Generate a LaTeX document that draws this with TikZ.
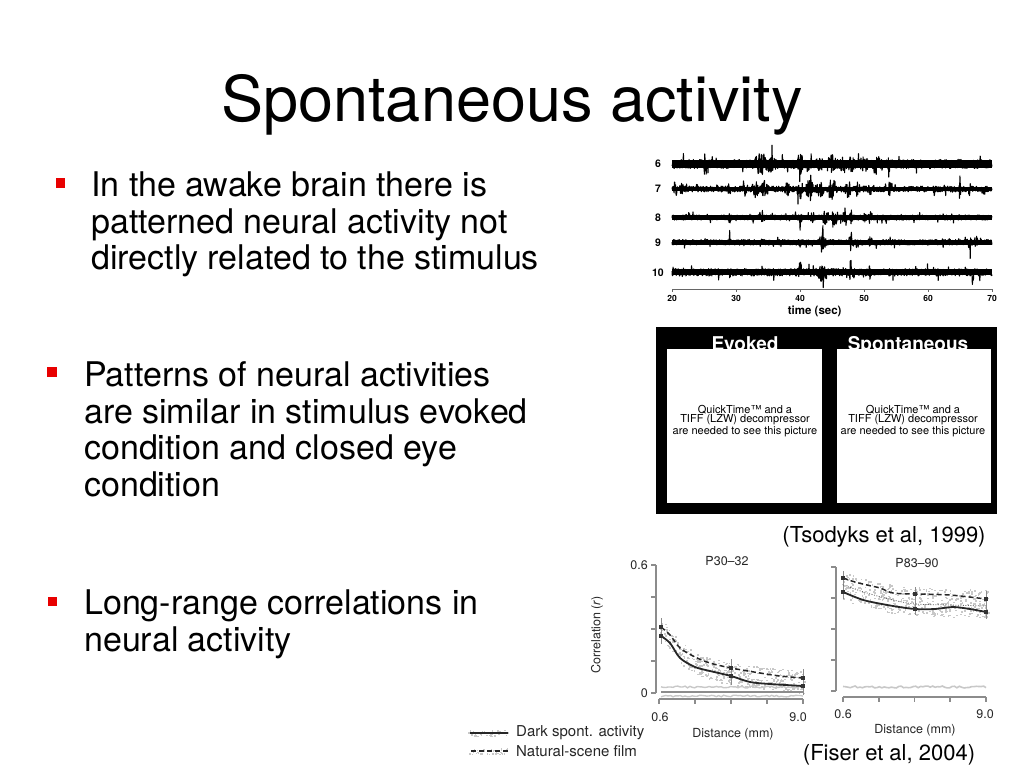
\documentclass[tikz,border=0pt]{standalone}
\usepackage{fontspec}
\setmainfont{TeX Gyre Heros}
\usetikzlibrary{positioning}
\definecolor{bulletred}{RGB}{232,0,0}
\definecolor{cloudgrey}{RGB}{200,200,200}
\definecolor{axisgrey}{RGB}{140,140,140}
\tikzstyle{title} = [font=\fontsize{63}{70}\selectfont, inner sep=0]
\tikzstyle{bodytext} = [font=\fontsize{34}{36.7}\selectfont, align=left, anchor=north west, inner sep=0]
\tikzstyle{bulletbox} = [fill=bulletred, minimum size=9.3pt, inner sep=0]
\tikzstyle{trace} = [black, line width=1.1pt, line join=round]
\tikzstyle{chanlabel} = [font=\bfseries\fontsize{10.5}{10.5}\selectfont, inner sep=0]
\tikzstyle{ticklbl} = [font=\bfseries\fontsize{8.5}{8.5}\selectfont, inner sep=0]
\tikzstyle{tickline} = [black!60, line width=0.7pt]
\tikzstyle{paneltitle} = [text=white, font=\bfseries\fontsize{19}{19}\selectfont, inner sep=0, anchor=base]
\tikzstyle{qt} = [font=\fontsize{11}{9.3}\selectfont, align=center, inner sep=0]
\tikzstyle{citation} = [font=\fontsize{22}{22}\selectfont, inner sep=0]
\tikzstyle{plotlbl} = [text=black!85, font=\fontsize{12.5}{12.5}\selectfont, inner sep=0]
\tikzstyle{legendtext} = [text=black!85, font=\fontsize{15}{15}\selectfont, inner sep=0, anchor=west]
\tikzstyle{axisline} = [axisgrey, line width=1.2pt]
\tikzstyle{datasolid} = [black!85, line width=1.8pt]
\tikzstyle{datadash} = [black!85, line width=1.5pt, dash pattern=on 5pt off 3pt]
\tikzstyle{datadot} = [black!60, line width=0.8pt, dash pattern=on 1pt off 1.5pt]
\tikzstyle{errbar} = [black!45, line width=0.8pt]
\pgfmathdeclarefunction{burst}{3}{\pgfmathparse{max(0,1-min(abs(#1-#2)/#3,2)^2)}}

\begin{document}
\begin{tikzpicture}[x=1pt, y=-1pt]
\useasboundingbox (0,0) rectangle (1024,768);
\pgfmathsetseed{11}

% title
\node (title) [title, anchor=base] at (512,121) {Spontaneous activity};

% bullets
\node (sq1) [bulletbox] at (60.5,183) {};
\node (txt1) [bodytext] at (91,171.5) {In the awake brain there is\\patterned neural activity not\\directly related to the stimulus};
\node (sq2) [bulletbox] at (52,372) {};
\node (txt2) [bodytext] at (84,361.5) {Patterns of neural activities\\are similar in stimulus evoked\\condition and closed eye\\condition};
\node (sq3) [bulletbox] at (52.5,601.7) {};
\node (txt3) [bodytext] at (84,590) {Long-range correlations in\\neural activity};

% recordings
\begin{scope}[shift={(672,0)}, x=6.4pt]
\foreach \chan/\ybase/\base/\env in {
  6/164/4.6/{7*burst(\x,34,1.2)+4*burst(\x,35.5,0.8)+6*burst(\x,40,0.6)+4*burst(\x,41,0.5)+3*burst(\x,43,0.6)+5*burst(\x,45,0.8)+4*burst(\x,46.5,0.5)+4*burst(\x,48,0.5)+4*burst(\x,50,0.6)+6*burst(\x,52,0.5)+3*burst(\x,54,0.4)},
  7/189/2.9/{5*burst(\x,20.5,0.3)+4*burst(\x,21.5,0.3)+4*burst(\x,24,0.3)+4*burst(\x,29,0.3)+5*burst(\x,31.5,0.4)+6*burst(\x,33,0.6)+6*burst(\x,34.5,0.6)+5*burst(\x,38,0.4)+7*burst(\x,40,0.5)+6*burst(\x,41.5,0.8)+6*burst(\x,43,0.8)+8*burst(\x,45,0.8)+6*burst(\x,47.5,0.5)+5*burst(\x,49,0.4)+4*burst(\x,51,0.4)+5*burst(\x,54,0.3)+4*burst(\x,61,0.2)+5*burst(\x,65,0.3)+4*burst(\x,66.5,0.2)},
  8/217.5/2.6/{5*burst(\x,29,0.2)+5*burst(\x,34,0.5)+3*burst(\x,38,0.3)+4*burst(\x,40,0.2)+4*burst(\x,42,0.4)+5*burst(\x,44,0.6)+7*burst(\x,45.5,0.6)+7*burst(\x,47,0.4)+6*burst(\x,48,0.3)+4*burst(\x,50,0.4)+4*burst(\x,51,0.4)+3*burst(\x,65,0.2)},
  9/242.3/2.8/{4*burst(\x,29,0.2)+3*burst(\x,34,0.3)+3*burst(\x,40,0.2)+8*burst(\x,43.5,0.6)+12*burst(\x,43.5,0.12)+6*burst(\x,48,0.4)+3*burst(\x,51,0.3)+6*burst(\x,66.5,0.4)+4*burst(\x,67.5,0.3)},
  10/272.3/3.7/{4*burst(\x,29,0.2)+3*burst(\x,34,0.3)+7*burst(\x,40,0.3)+8*burst(\x,43.5,0.8)+9*burst(\x,48,0.5)+4*burst(\x,51,0.3)+5*burst(\x,67,0.3)}}
{
  \node (ch\chan) [chanlabel] at (-2.2,\ybase) {\chan};
  \fill [black] (0,\ybase-0.85*\base) rectangle (50,\ybase+0.85*\base);
  \draw [trace] plot[domain=20:70, samples=900] ({\x-20},{\ybase+(\base+\env)*rand*(1+1.3*(rnd>0.95))});
}
\draw [tickline] (0,289) -- (50,289);
\foreach \t in {20,30,...,70} {
  \draw [tickline] (\t-20,289) -- (\t-20,292);
  \node (tk\t) [ticklbl] at (\t-20,298.5) {\t};
}
\node (timelbl) [chanlabel, font=\bfseries\fontsize{11.5}{11.5}\selectfont] at (22.3,311) {time (sec)};
\end{scope}

% movie panels
\fill [black] (656,327) rectangle (997,513.5);
\node (evtitle) [paneltitle] at (745,350.5) {Evoked};
\node (sptitle) [paneltitle] at (908,350.5) {Spontaneous};
\fill [white] (667,349) rectangle (822,502.5);
\fill [white] (837,349) rectangle (991,502.5);
\node (evqt) [qt] at (745,421) {QuickTime\texttrademark{} and a\\TIFF (LZW) decompressor\\are needed to see this picture};
\node (spqt) [qt] at (913,421) {QuickTime\texttrademark{} and a\\TIFF (LZW) decompressor\\are needed to see this picture};
\node (tsod) [citation] at (884,537) {(Tsodyks et al, 1999)};

% correlation plot, P30-32
\foreach \i in {1,...,420} {
  \pgfmathsetmacro\px{659+146*rnd}
  \pgfmathsetmacro\py{682-43*exp(-(\px-661)/25)-12*(803-\px)/142+11*rand}
  \fill [cloudgrey] (\px,\py) rectangle ++(1.8,1.5);
}
\draw [axisline] (656,565) -- (656,693);
\foreach \yy in {565,597,629,661,693} \draw [axisline] (651,\yy) -- (656,\yy);
\draw [axisline] (659,699) -- (803,699);
\foreach \xx in {659,695,731,767,803} \draw [axisline] (\xx,699) -- (\xx,704);
\draw [cloudgrey, line width=1.4pt] plot[domain=661:803, samples=60] (\x,{687+0.9*rand});
\draw [black!45, line width=1.2pt] (661,692) -- (803,692);
\draw [cloudgrey, line width=1.4pt] plot[domain=661:803, samples=60] (\x,{696+0.9*rand});
\foreach \ex/\ey in {661/631, 731/672, 803/682} \draw [errbar] (\ex,\ey-13) -- (\ex,\ey+13);
\draw [datadash] plot[smooth] coordinates {(661,627) (670,635) (680,648) (695,657) (710,663) (731,668) (760,673) (780,676) (803,678)};
\draw [datasolid] plot[smooth] coordinates {(661,636) (670,643) (680,658) (695,667) (710,671) (731,676) (750,682) (770,684) (803,686)};
\foreach \mx/\my in {661/627, 661/636, 731/668, 731/676, 803/678, 803/686} \fill [black!80] (\mx-2,\my-2) rectangle (\mx+2,\my+2);
\node (ly06) [plotlbl, anchor=east] at (648,565) {0.6};
\node (ly0) [plotlbl, anchor=east] at (648,693) {0};
\node (lx06) [plotlbl] at (660,717) {0.6};
\node (lx90) [plotlbl] at (798,717) {9.0};
\node (ldist) [plotlbl] at (733,734) {Distance (mm)};
\node (lhead) [plotlbl] at (727,561) {P30--32};
\node (corr) [plotlbl, rotate=90] at (597,635) {Correlation (\textit{r})};

% correlation plot, P83-90
\foreach \i in {1,...,420} {
  \pgfmathsetmacro\px{841+147*rnd}
  \pgfmathsetmacro\py{604-19*exp(-(\px-843)/40)+14*rand}
  \fill [cloudgrey] (\px,\py) rectangle ++(1.8,1.5);
}
\draw [axisline] (836,567) -- (836,691);
\foreach \yy in {567,598,629,660,691} \draw [axisline] (831,\yy) -- (836,\yy);
\draw [axisline] (843,697) -- (986,697);
\foreach \xx in {843,879,914.5,950,986} \draw [axisline] (\xx,697) -- (\xx,702);
\draw [cloudgrey, line width=1.6pt] plot[domain=843:986, samples=60] (\x,{687+1*rand});
\foreach \ex/\ey in {843/585, 915/601, 986/605} \draw [errbar] (\ex,\ey-14) -- (\ex,\ey+14);
\draw [datadot] plot[smooth] coordinates {(843,585) (867,593) (893,600) (915,604) (950,605) (986,606)};
\draw [datadash] plot[smooth] coordinates {(843,578) (855,582) (867,585) (880,588) (893,593) (915,594) (950,595) (986,599)};
\draw [datasolid] plot[smooth] coordinates {(843,592) (855,597) (867,601) (893,606) (915,609) (935,609) (953,607) (970,609) (986,612)};
\foreach \mx/\my in {843/578, 843/592, 915/594, 915/609, 986/599, 986/612} \fill [black!80] (\mx-2,\my-2) rectangle (\mx+2,\my+2);
\node (rx06) [plotlbl] at (843,714) {0.6};
\node (rx90) [plotlbl] at (985,714) {9.0};
\node (rdist) [plotlbl] at (915,730) {Distance (mm)};
\node (rhead) [plotlbl] at (917,563) {P83--90};

% legend
\foreach \i in {1,...,40} \fill [cloudgrey] ({468+40*rnd},{733+3*rand}) rectangle ++(1.4,1.4);
\foreach \i in {1,...,40} \fill [cloudgrey] ({468+40*rnd},{751+3*rand}) rectangle ++(1.4,1.4);
\coordinate (leg1) at (508,733);
\coordinate (leg2) at (508,751);
\draw [datasolid] (leg1) -- ++(-38,0);
\draw [datadash] (leg2) -- ++(-38,0);
\node (leg1txt) [legendtext, right=8pt of leg1] {Dark spont. activity};
\node (leg2txt) [legendtext, right=8pt of leg2] {Natural-scene film};
\node (fiser) [citation] at (889,755) {(Fiser et al, 2004)};
\end{tikzpicture}
\end{document}
